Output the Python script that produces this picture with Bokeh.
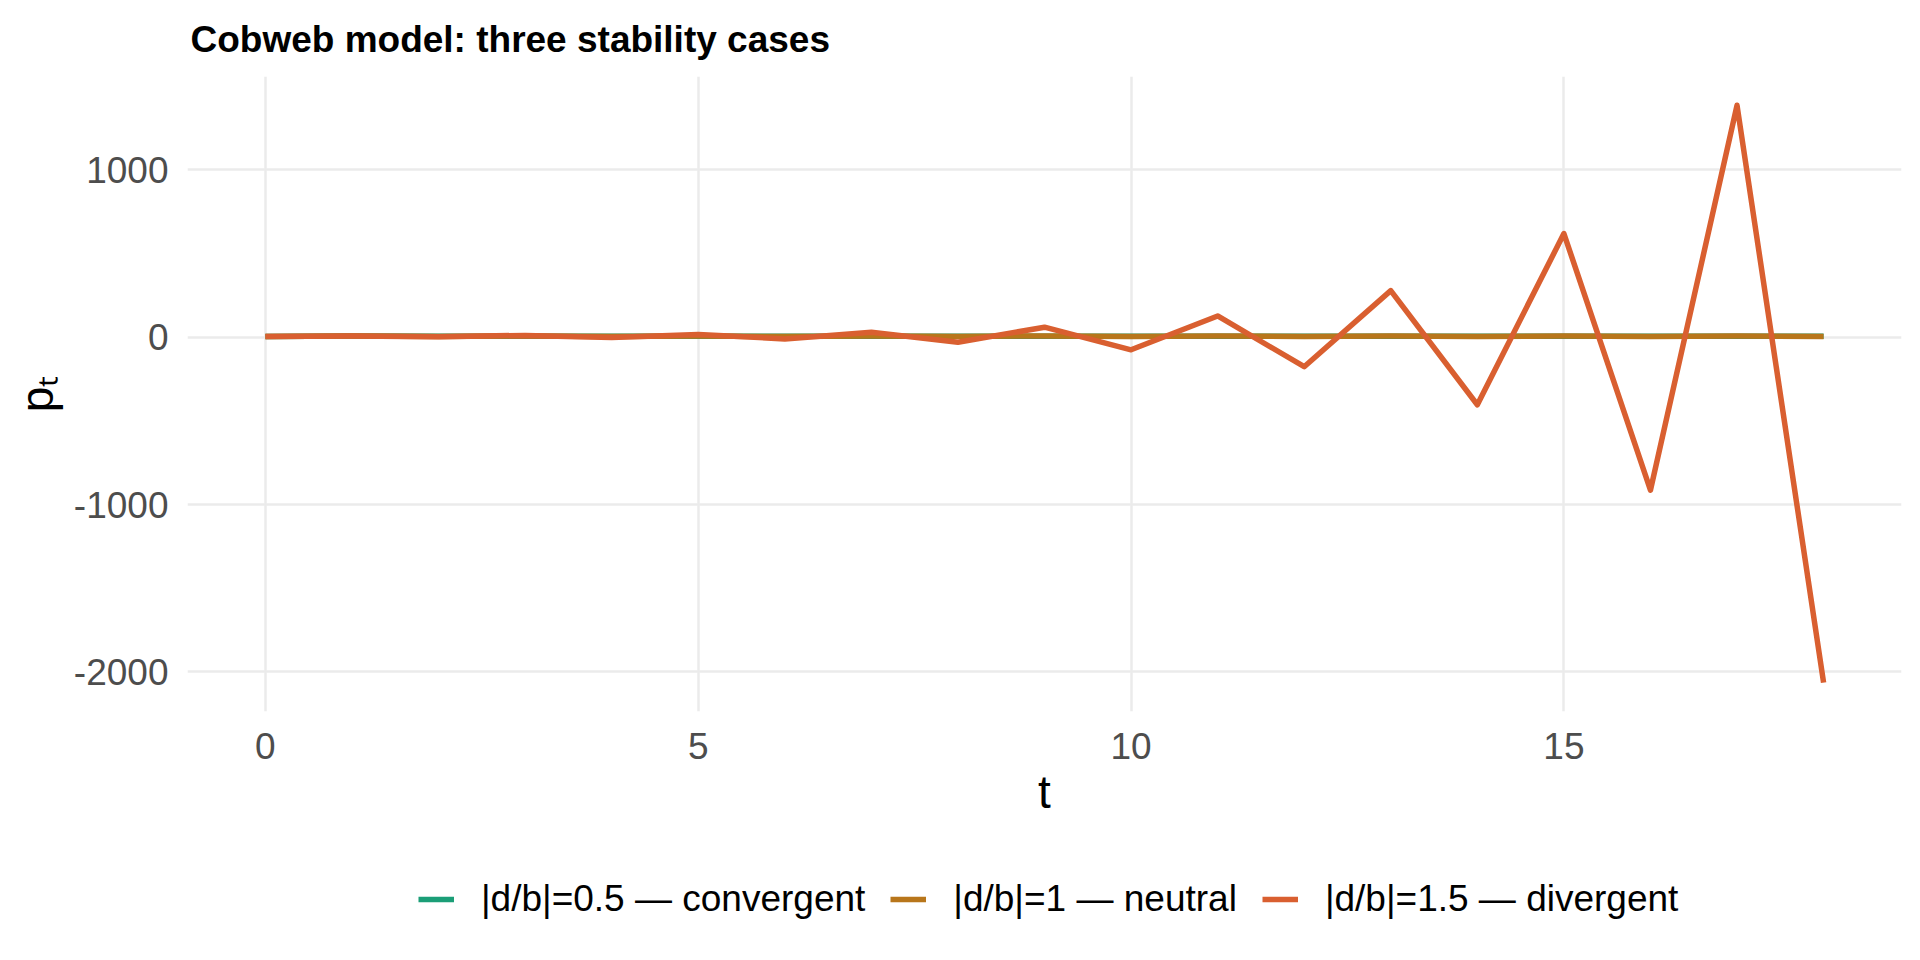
from bokeh.plotting import figure
from bokeh.models import Range1d, FixedTicker, Legend, LegendItem
from bokeh.layouts import column
from bokeh.embed import file_html
from bokeh.resources import INLINE

# ---- data ----
t_values = list(range(19))
convergent = [3, 6, 4.5, 5.3, 4.9, 5.1, 5.0, 5.0, 5.0, 5.0, 5.0, 5.0, 5.0, 5.0, 5.0, 5.0, 5.0, 5.0, 5.0]
neutral = [3, 7, 3, 7, 3, 7, 3, 7, 3, 7, 3, 7, 3, 7, 3, 7, 3, 7, 3]
divergent = [3, 7, 2, 10, -2, 16, -11, 29, -31, 59, -76, 126, -177, 277, -404, 618, -914, 1384, -2064]

series_labels = ["|d/b|=0.5 \u2014 convergent", "|d/b|=1 \u2014 neutral", "|d/b|=1.5 \u2014 divergent"]
series_colors = ["#1B9E77", "#B8761B", "#D95F30"]

x_ticks = [0, 5, 10, 15]
y_ticks = [-2000, -1000, 0, 1000]
y_tick_labels = {-2000: "-2000", -1000: "-1000", 0: "0", 1000: "1000"}

FONT = "Liberation Sans"
LINE_W = 5.5

p = figure(width=1904, height=850, output_backend="svg", toolbar_location=None,
           x_range=Range1d(-0.9, 18.9), y_range=Range1d(-2236, 1556),
           min_border_left=187, min_border_right=3, min_border_top=74, min_border_bottom=139)
p.outline_line_color = None
p.background_fill_color = "white"
p.border_fill_color = "white"

# title
p.title.text = "Cobweb model: three stability cases"
p.title.text_font = FONT
p.title.text_font_size = "37px"
p.title.text_font_style = "bold"
p.title.text_color = "black"
p.title.align = "left"
p.title.offset = 3
p.title.standoff = 33

# axes
for ax in (p.xaxis[0], p.yaxis[0]):
    ax.axis_line_color = None
    ax.major_tick_line_color = None
    ax.minor_tick_line_color = None
    ax.major_label_text_font = FONT
    ax.major_label_text_font_size = "37px"
    ax.major_label_text_color = "#4D4D4D"
    ax.axis_label_text_font = FONT
    ax.axis_label_text_font_size = "46px"
    ax.axis_label_text_font_style = "normal"
    ax.axis_label_text_color = "black"

p.xaxis.ticker = FixedTicker(ticks=x_ticks)
p.yaxis.ticker = FixedTicker(ticks=y_ticks)
p.yaxis.major_label_overrides = y_tick_labels
p.xaxis.axis_label = "t"
p.yaxis.axis_label = "p\u209c"
p.xaxis.major_label_standoff = 15
p.yaxis.major_label_standoff = 13
p.xaxis.axis_label_standoff = 4
p.yaxis.axis_label_standoff = 8

# grid
p.xgrid.ticker = FixedTicker(ticks=x_ticks)
p.ygrid.ticker = FixedTicker(ticks=y_ticks)
for g in (p.xgrid[0], p.ygrid[0]):
    g.grid_line_color = "#EBEBEB"
    g.grid_line_width = 2.5
    g.minor_grid_line_color = None

# lines
series = [convergent, neutral, divergent]
for vals, col in zip(series, series_colors):
    p.line(t_values, vals, line_color=col, line_width=LINE_W, line_join="round")

# legend strip below the plot (its lines sit outside the strip's view; only the keys show)
p2 = figure(width=1904, height=94, output_backend="svg", toolbar_location=None,
            x_axis_type=None, y_axis_type=None, min_border=0,
            x_range=Range1d(0, 1), y_range=Range1d(50000, 60000))
p2.outline_line_color = None
p2.xgrid.visible = False
p2.ygrid.visible = False
keys = []
for vals, col in zip(series, series_colors):
    keys.append(p2.line(t_values, vals, line_color=col, line_width=LINE_W))

legend = Legend(items=[LegendItem(label=lab, renderers=[r]) for lab, r in zip(series_labels, keys)],
                orientation="horizontal", location=(231, 24))
legend.label_text_font = FONT
legend.label_text_font_size = "37px"
legend.label_text_color = "black"
legend.glyph_width = 36
legend.glyph_height = 30
legend.label_standoff = 27
legend.spacing = 25
legend.padding = 0
legend.margin = 0
legend.border_line_color = None
legend.background_fill_alpha = 0
p2.add_layout(legend, "center")

layout = column(p, p2)
open("out.html", "w").write(file_html(layout, INLINE))
